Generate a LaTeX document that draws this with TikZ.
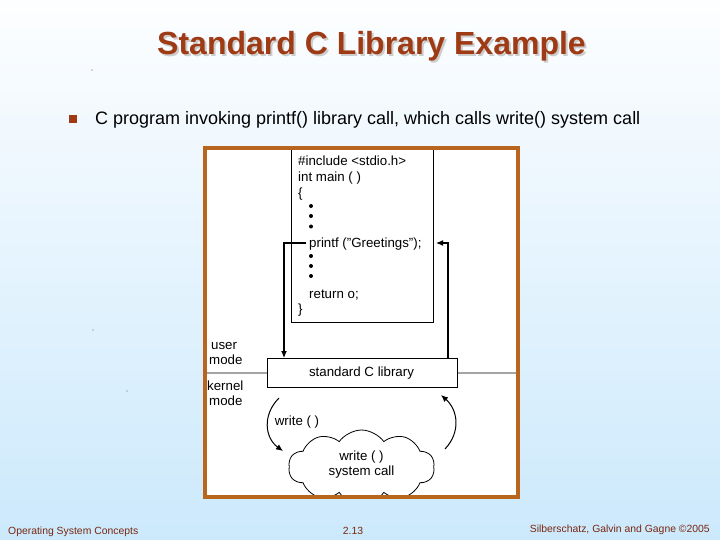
\documentclass[tikz,border=0pt]{standalone}
\usepackage{fontspec}
\setmainfont{Liberation Sans}
\usetikzlibrary{shapes.symbols,arrows.meta}
\definecolor{bgtop}{RGB}{253,254,255}
\definecolor{bgbot}{RGB}{204,233,252}
\definecolor{titlec}{RGB}{158,58,20}
\definecolor{framec}{RGB}{184,102,30}
\definecolor{footc}{RGB}{120,40,16}
\tikzset{
  codetxt/.style={anchor=base west, inner sep=0pt, font=\fontsize{13.3}{15}\selectfont},
  lbl/.style={anchor=base west, inner sep=0pt, font=\fontsize{13.3}{15}\selectfont},
  dtxt/.style={inner sep=0pt, font=\fontsize{13.3}{15}\selectfont},
  cdot/.style={fill=black, circle, inner sep=0pt, minimum size=4pt},
  conn/.style={line width=1.1pt, -{Latex[length=7pt,width=6pt]}},
  foot/.style={inner sep=0pt, text=footc, font=\fontsize{10.4}{12}\selectfont},
}
\begin{document}
\begin{tikzpicture}[x=1pt,y=-1pt]
\useasboundingbox (0,0) rectangle (720,540);
\shade[top color=bgtop, bottom color=bgbot] (0,0) rectangle (720,540);
% title (with soft shadow)
\node[anchor=base, inner sep=0pt, text=gray!45, font=\fontsize{32}{36}\selectfont\bfseries] at (373,56.5) {\phantom{S}};
\begin{scope}
\node[anchor=base, inner sep=0pt, text=gray!40, font=\fontsize{32}{36}\selectfont\bfseries] at (373.5,57) {\textcolor{gray!40}{Standard C Library Example}};
\end{scope}
\node (title) [anchor=base, inner sep=0pt, text=titlec, font=\fontsize{32}{36}\selectfont\bfseries] at (371.5,55) {Standard C Library Example};
% bullet
\fill[titlec] (69,115) rectangle (77,123);
\node (bullet) [anchor=base west, inner sep=0pt, font=\fontsize{18}{20}\selectfont] at (95,125) {C program invoking printf() library call, which calls write() system call};
% stray dots
\fill[black!60] (92,70) circle (0.6);
\fill[black!60] (93,330) circle (0.6);
\fill[black!60] (127,391) circle (0.7);
% frame interior
\fill[white] (205,147) rectangle (518,498);
% code box
\node (code) [draw, line width=1pt, minimum width=142pt, minimum height=175pt, anchor=north west, inner sep=0pt] at (291,146.5) {};
\node (l1) [codetxt] at (298,166) {\#include <stdio.h>};
\node (l2) [codetxt] at (298,181.5) {int main ( )};
\node (l3) [codetxt] at (298,197) {\{};
\node (d1) [cdot] at (311,206) {};
\node (d2) [cdot] at (311,216) {};
\node (d3) [cdot] at (311,226.5) {};
\node (pf) [codetxt] at (309,247.5) {printf ("Greetings");};
\node (d4) [cdot] at (311,256) {};
\node (d5) [cdot] at (311,266) {};
\node (d6) [cdot] at (311,276) {};
\node (l5) [codetxt] at (309,298) {return o;};
\node (l6) [codetxt] at (298,313.5) {\}};
% library box
\node (lib) [draw, line width=0.8pt, minimum width=190pt, minimum height=29pt, anchor=north west, inner sep=0pt] at (267,358) {};
\node (libt) [dtxt] at (361.5,373) {standard C library};
\coordinate (fl) at (207,373);
\coordinate (fr) at (516,373);
\draw[line width=0.8pt] (fl) -- (lib.west);
\draw[line width=0.8pt] (lib.east) -- (fr);
% mode labels
\node (um1) [lbl] at (211,349.5) {user};
\node (um2) [lbl] at (209,364.5) {mode};
\node (km1) [lbl] at (207,390.5) {kernel};
\node (km2) [lbl] at (209,405.5) {mode};
% arrows
\coordinate (pl) at (284,243);
\coordinate (ps) at (306,243);
\draw[conn] (ps) -- (pl) -- (pl |- lib.north);
\coordinate (pr) at (448,243);
\coordinate (pa) at (436,243);
\draw[conn] (pr |- lib.north) -- (pr) -- (pa);
% cloud
\begin{scope}
\clip (207,149) rectangle (516,496);
\node (cl) [cloud, draw, line width=0.8pt, cloud puffs=10, cloud puff arc=110, aspect=2.2, minimum width=146pt, minimum height=74pt, fill=white] at (361.5,467) {};
\end{scope}
\node (ct1) [dtxt] at (361.5,457) {write ( )};
\node (ct2) [dtxt] at (361.5,472) {system call};
\coordinate (a1s) at (279,398);
\coordinate (a1e) at (283,451);
\draw[conn, line width=1pt] (a1s) .. controls (262,415) and (265,438) .. (a1e);
\node (w) [dtxt] at (297,422) {write ( )};
\coordinate (a2s) at (445,449);
\coordinate (a2e) at (441,395);
\draw[conn, line width=1pt] (a2s) .. controls (461,432) and (458,410) .. (a2e);
% frame border
\draw[framec, line width=4pt] (205,148) rectangle (518,497);
% footer
\node (f1) [foot, anchor=base west] at (8,534) {Operating System Concepts};
\node (f2) [foot, anchor=base] at (353,534) {2.13};
\node (f3) [foot, anchor=base east] at (710,532) {Silberschatz, Galvin and Gagne ©2005};
\end{tikzpicture}
\end{document}
